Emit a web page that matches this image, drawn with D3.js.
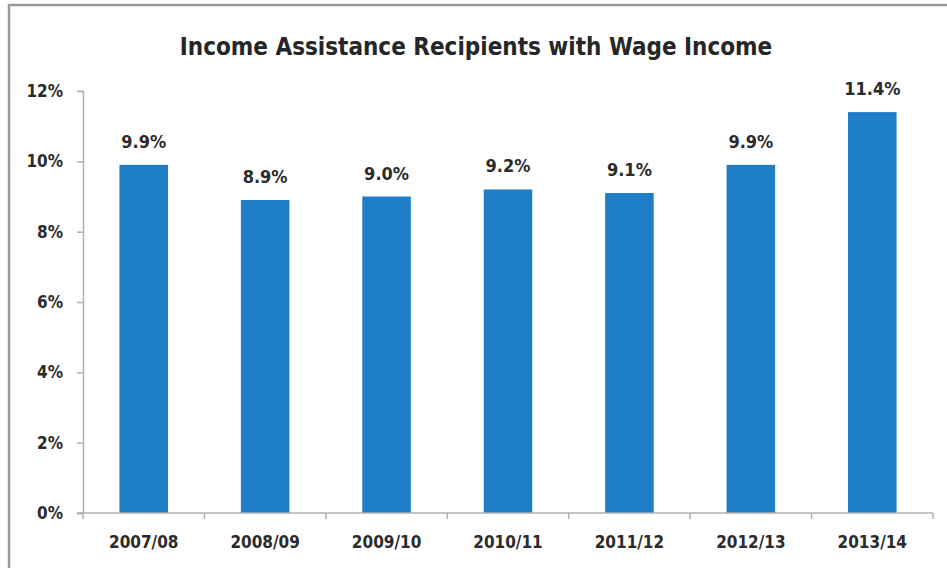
<!DOCTYPE html>
<html>
<head>
<meta charset="utf-8">
<script src="https://cdn.jsdelivr.net/npm/d3@7"></script>
<style>
  html, body { margin: 0; padding: 0; background: #fff; }
  svg { display: block; }
  text { font-family: "Liberation Sans Narrow", "DejaVu Sans Condensed", "Open Sans", sans-serif; fill: #2b2b2b; }
</style>
</head>
<body>
<svg id="chart" width="947" height="568"></svg>
<script>
// Share of income assistance recipients reporting wage income, by fiscal year
const years = ["2007/08", "2008/09", "2009/10", "2010/11", "2011/12", "2012/13", "2013/14"];
const shares = [9.9, 8.9, 9.0, 9.2, 9.1, 9.9, 11.4];
const yTicks = [0, 2, 4, 6, 8, 10, 12];
const chartTitle = "Income Assistance Recipients with Wage Income";

const svg = d3.select("#chart");
const W = 947, H = 568;
const plot = { left: 83, right: 933, top: 91, bottom: 513 };

// frame lines (left and top edges of the chart box)
svg.append("line").attr("x1", 9).attr("x2", 9).attr("y1", 4).attr("y2", H)
  .attr("stroke", "#9a9a9a").attr("stroke-width", 2.5);
svg.append("line").attr("x1", 8).attr("x2", W).attr("y1", 5).attr("y2", 5)
  .attr("stroke", "#9a9a9a").attr("stroke-width", 2.5);

const x = d3.scaleBand().domain(years).range([plot.left, plot.right]).paddingInner(0.6).paddingOuter(0.3);
const y = d3.scaleLinear().domain([0, 12]).range([plot.bottom, plot.top]);

// title
svg.append("text").attr("x", 476).attr("y", 55).attr("text-anchor", "middle")
  .style("font-size", "24px").style("font-weight", "bold").style("fill", "#262626")
  .text(chartTitle);

// y axis
const yAxis = svg.append("g").attr("transform", `translate(${plot.left},0)`)
  .call(d3.axisLeft(y).tickValues(yTicks).tickFormat(d => d + "%").tickSize(6).tickPadding(14));
yAxis.select(".domain").attr("stroke", "#b0b0b0").attr("stroke-width", 1.5);
yAxis.selectAll(".tick line").attr("stroke", "#b0b0b0").attr("stroke-width", 1.5);
yAxis.selectAll(".tick text").style("font-size", "17px").style("font-weight", "bold")
  .style("font-family", "'Liberation Sans Narrow', 'DejaVu Sans Condensed', sans-serif").attr("fill", "#2b2b2b");

// bars
svg.append("g").selectAll("rect").data(years).join("rect")
  .attr("x", d => x(d))
  .attr("width", x.bandwidth())
  .attr("y", (d, i) => y(shares[i]))
  .attr("height", (d, i) => y(0) - y(shares[i]))
  .attr("fill", "#1f7ec8");

// value labels
svg.append("g").selectAll("text").data(years).join("text")
  .attr("x", d => x(d) + x.bandwidth() / 2)
  .attr("y", (d, i) => y(shares[i]) - 17)
  .attr("text-anchor", "middle")
  .style("font-size", "18px").style("font-weight", "bold")
  .text((d, i) => shares[i].toFixed(1) + "%");

// x axis with boundary ticks between categories
const xAxis = svg.append("g").attr("transform", `translate(0,${plot.bottom})`);
xAxis.append("line").attr("x1", plot.left - 6).attr("x2", plot.right)
  .attr("stroke", "#b0b0b0").attr("stroke-width", 1.5);
const step = x.step();
const bounds = d3.range(years.length + 1).map(i => plot.left + i * (plot.right - plot.left) / years.length);
xAxis.selectAll("line.bt").data(bounds).join("line").attr("class", "bt")
  .attr("x1", d => d).attr("x2", d => d).attr("y1", 0).attr("y2", 6)
  .attr("stroke", "#b0b0b0").attr("stroke-width", 1.5);
xAxis.selectAll("text").data(years).join("text")
  .attr("x", d => x(d) + x.bandwidth() / 2)
  .attr("y", 35)
  .attr("text-anchor", "middle")
  .style("font-size", "17px").style("font-weight", "bold")
  .text(d => d);
</script>
</body>
</html>
